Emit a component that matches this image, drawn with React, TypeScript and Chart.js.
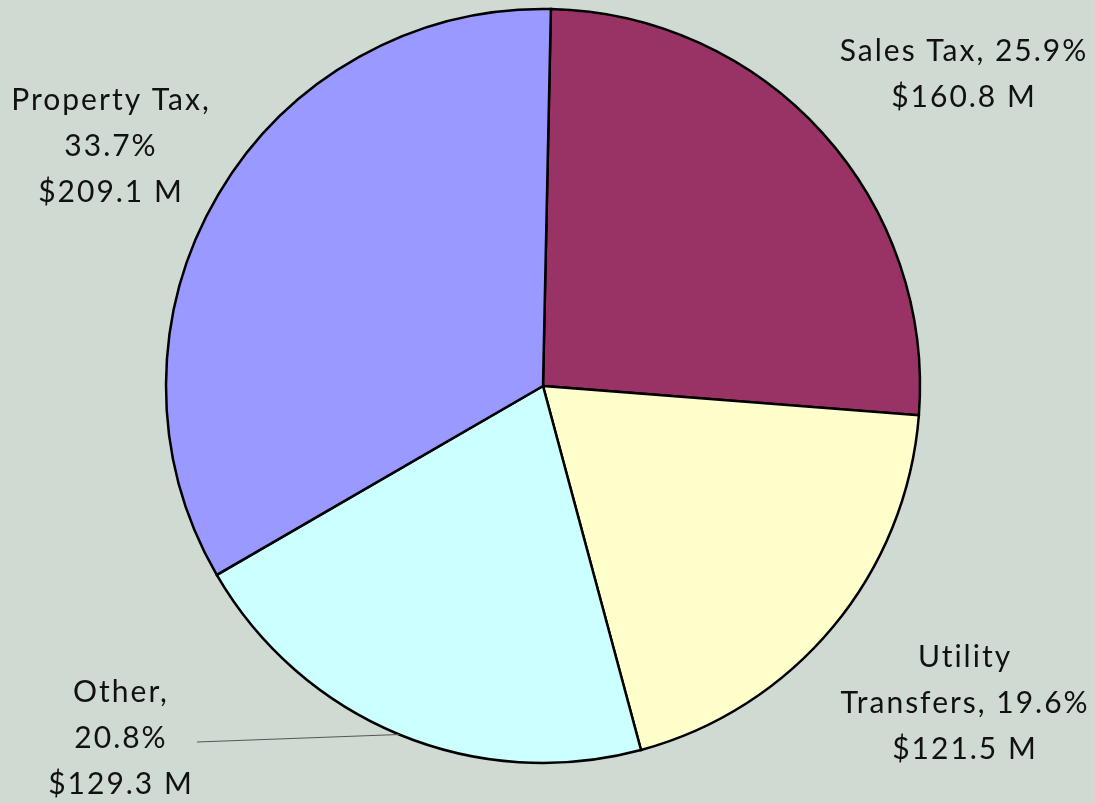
import React, { useEffect, useRef } from "react";
import { Chart, registerables } from "chart.js";

Chart.register(...registerables);

const categories = ["Sales Tax", "Utility Transfers", "Other", "Property Tax"];
const amounts = [160.8, 121.5, 129.3, 209.1];
const percentLabels = ["25.9%", "19.6%", "20.8%", "33.7%"];
const amountLabels = ["$160.8 M", "$121.5 M", "$129.3 M", "$209.1 M"];
const colors = ["#993366", "#FFFFCC", "#CCFFFF", "#9999FF"];

// label text lines, per slice
const labelLines = [
  [`${categories[0]}, ${percentLabels[0]}`, amountLabels[0]],
  ["Utility", `Transfers, ${percentLabels[1]}`, amountLabels[1]],
  [`${categories[2]},`, percentLabels[2], amountLabels[2]],
  [`${categories[3]},`, percentLabels[3], amountLabels[3]],
];
// label anchor (centre of first line) relative to pie centre
const labelOffsets = [
  [420, -335],
  [421, 271],
  [-423, 306],
  [-433, -286],
];

const BG = "#CFDAD3";

const labelPlugin = {
  id: "sliceLabels",
  afterDatasetsDraw(chart: any) {
    const ctx = chart.ctx;
    const meta = chart.getDatasetMeta(0);
    const arc = meta.data[0];
    const cx = arc.x;
    const cy = arc.y;
    ctx.save();
    ctx.fillStyle = "#111";
    ctx.font = "30px Lato";
    (ctx as any).letterSpacing = "2px";
    ctx.textAlign = "center";
    ctx.textBaseline = "middle";
    labelLines.forEach((lines, i) => {
      const [ox, oy] = labelOffsets[i];
      lines.forEach((t, j) => {
        ctx.fillText(t, cx + ox + 1, cy + oy + j * 46);
      });
    });
    // leader line for "Other"
    const other = meta.data[2];
    const ang = (other.startAngle + other.endAngle) / 2;
    const r = other.outerRadius;
    ctx.strokeStyle = "#555";
    ctx.lineWidth = 1.2;
    ctx.beginPath();
    ctx.moveTo(cx - 346, cy + 356);
    ctx.lineTo(cx + Math.cos(ang) * r, cy + Math.sin(ang) * r);
    ctx.stroke();
    ctx.restore();
  },
};

const bgPlugin = {
  id: "bg",
  beforeDraw(chart: any) {
    const ctx = chart.ctx;
    ctx.save();
    ctx.fillStyle = BG;
    ctx.fillRect(0, 0, chart.width, chart.height);
    ctx.restore();
  },
};

export default function App() {
  const ref = useRef<HTMLCanvasElement>(null);
  useEffect(() => {
    document.body.style.margin = "0";
    document.body.style.background = BG;
    const chart = new Chart(ref.current!, {
      type: "pie",
      data: {
        labels: categories,
        datasets: [
          {
            data: amounts,
            backgroundColor: colors,
            borderColor: "#000",
            borderWidth: 2.5,
            borderJoinStyle: "miter",
          },
        ],
      },
      options: {
        animation: false,
        responsive: false,
        rotation: 1.2,
        radius: 377,
        layout: { padding: { top: 0, bottom: 31, left: 0, right: 9 } },
        plugins: {
          legend: { display: false },
          tooltip: { enabled: false },
        },
      },
      plugins: [bgPlugin, labelPlugin],
    });
    return () => chart.destroy();
  }, []);
  return (
    <div style={{ width: 1095, height: 803 }}>
      <canvas ref={ref} width={1095} height={803} style={{ display: "block" }} />
    </div>
  );
}
